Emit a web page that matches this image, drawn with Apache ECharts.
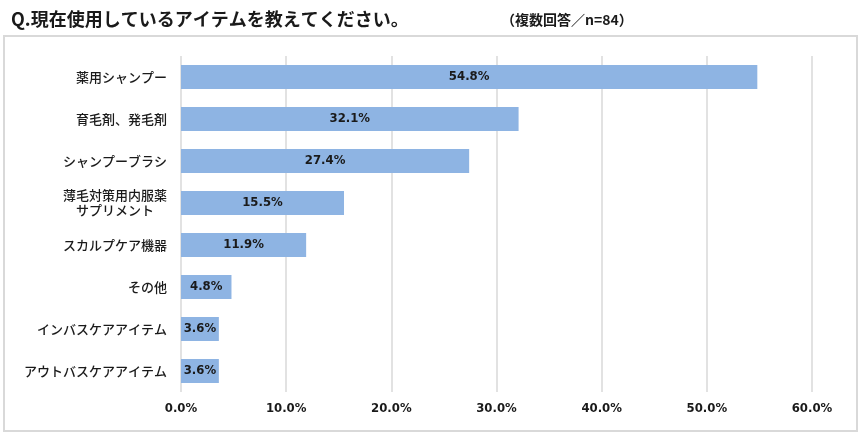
<!DOCTYPE html>
<html>
<head>
<meta charset="utf-8">
<script src="https://cdn.jsdelivr.net/npm/echarts@6/dist/echarts.min.js"></script>
<style>
  html, body { margin: 0; padding: 0; background: #fff; }
  #chart { width: 863px; height: 438px; }
</style>
</head>
<body>
<div id="chart"></div>
<script>
const categories = [
  '薬用シャンプー',
  '育毛剤、発毛剤',
  'シャンプーブラシ',
  '薄毛対策用内服薬\nサプリメント',
  'スカルプケア機器',
  'その他',
  'インバスケアアイテム',
  'アウトバスケアアイテム'
];
const values = [54.8, 32.1, 27.4, 15.5, 11.9, 4.8, 3.6, 3.6];
const axisMax = 60;
const axisStep = 10;

const chart = echarts.init(document.getElementById('chart'));
chart.setOption({
  animation: false,
  backgroundColor: '#fff',
  title: [
    {
      text: 'Q.現在使用しているアイテムを教えてください。',
      left: 6, top: 5,
      textStyle: { fontFamily: 'Noto Sans CJK JP', fontSize: 18, fontWeight: 'bold', color: '#1a1a1a' }
    },
    {
      text: '（複数回答／n=84）',
      left: 496, top: 8,
      textStyle: { fontFamily: 'Noto Sans CJK JP', fontSize: 14, fontWeight: 'bold', color: '#1a1a1a' }
    }
  ],
  graphic: [{
    type: 'rect',
    shape: { x: 4, y: 36, width: 853, height: 395 },
    style: { fill: 'none', stroke: '#d9d9d9', lineWidth: 2 },
    silent: true
  }],
  grid: { left: 181, right: 51, top: 56, bottom: 46 },
  xAxis: {
    type: 'value',
    min: 0, max: axisMax, interval: axisStep,
    axisLine: { show: false },
    axisTick: { show: false },
    splitLine: { lineStyle: { color: '#d9d9d9', width: 1.5 } },
    axisLabel: {
      margin: 10,
      fontFamily: 'DejaVu Sans Condensed',
      fontSize: 13, fontWeight: 'bold', color: '#1a1a1a',
      formatter: v => v.toFixed(1) + '%'
    }
  },
  yAxis: {
    type: 'category',
    inverse: true,
    data: categories,
    axisLine: { show: false },
    axisTick: { show: false },
    axisLabel: {
      margin: 14,
      formatter: v => v.split('\n').map(s => '{c|' + s + '}').join('\n'),
      rich: { c: { align: 'center', fontFamily: 'Noto Sans CJK JP', fontSize: 13, fontWeight: 500, color: '#1a1a1a', lineHeight: 15 } }
    }
  },
  series: [{
    type: 'bar',
    data: values,
    barWidth: 24,
    itemStyle: { color: '#8eb4e3' },
    label: {
      show: true,
      position: 'inside',
      fontFamily: 'DejaVu Sans Condensed',
      fontSize: 13, fontWeight: 'bold', color: '#1a1a1a',
      formatter: p => p.value.toFixed(1) + '%'
    }
  }]
});
</script>
</body>
</html>
